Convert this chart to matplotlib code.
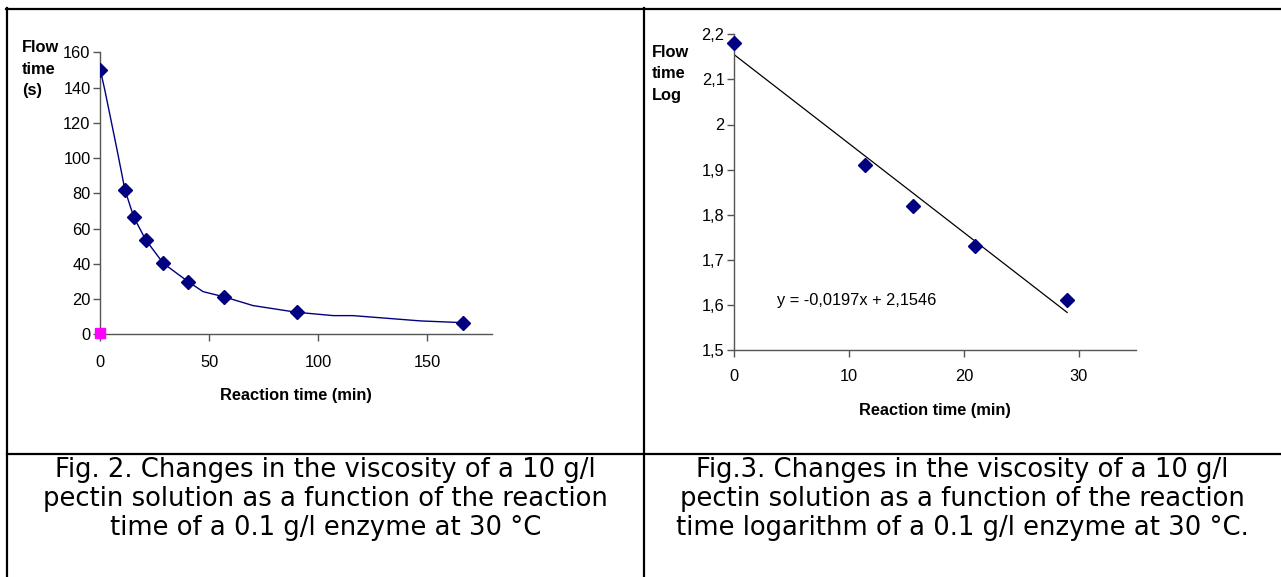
import matplotlib.pyplot as plt
from matplotlib.lines import Line2D

# Fig. 2 data: flow time vs reaction time
reaction_time = [0, 11.3, 15.4, 20.8, 28.9, 40.3, 57.0, 90.1, 166.5]
flow_time = [150, 82, 66.4, 53.7, 40.3, 29.9, 21.2, 12.5, 6.6]
# smoothed line as drawn in the original
curve_x = [0, 2.0, 4.5, 7.8, 11.3, 15.4, 20.8, 28.9, 40.3, 47.2, 57.0, 70.1, 90.1, 107, 116, 147, 166.5]
curve_y = [150, 139, 124, 104, 82, 66.4, 53.7, 40.3, 29.9, 24.2, 21.2, 16.3, 12.5, 10.6, 10.6, 7.6, 6.6]
# second series (pink square)
extra_x = [0]
extra_y = [1]

# Fig. 3 data: log of flow time
log_time = [0, 11.4, 15.6, 21.0, 29.0]
log_flow = [2.18, 1.91, 1.82, 1.73, 1.61]
slope = -0.0197
intercept = 2.1546

W, H = 1281, 577
fig = plt.figure(figsize=(W / 100, H / 100), dpi=100)

axis_color = '#555555'
navy = '#000080'
fs = 11.8


def fx(px):
    return px / W


def fy(py):
    return 1 - py / H


def style_axes(ax, xpad):
    for s in ['top', 'right']:
        ax.spines[s].set_visible(False)
    for s in ['left', 'bottom']:
        ax.spines[s].set_color(axis_color)
        ax.spines[s].set_linewidth(1.0)
    ax.tick_params(colors=axis_color, length=5, width=1.0)
    ax.tick_params(axis='y', pad=2)
    ax.tick_params(axis='x', pad=xpad)
    for lab in ax.get_xticklabels() + ax.get_yticklabels():
        lab.set_fontfamily('Liberation Sans')
        lab.set_fontsize(fs)
        lab.set_color('black')


# left chart
ax1 = fig.add_axes([fx(100.3), fy(334.3), fx(392), 282 / H])
ax1.plot(curve_x, curve_y, color=navy, lw=1.0, zorder=2)
ax1.plot(reaction_time, flow_time, linestyle='none', marker='D', ms=7,
         color=navy, zorder=3)
ax1.plot(extra_x, extra_y, linestyle='none', marker='s', ms=7,
         color='#ff00ff', zorder=4, clip_on=False)
ax1.set_xlim(0, 180)
ax1.set_ylim(0, 160)
ax1.set_xticks([0, 50, 100, 150])
ax1.set_yticks(range(0, 161, 20))
style_axes(ax1, 10)
ax1.set_xlabel('Reaction time (min)', fontfamily='Liberation Sans',
               fontsize=fs, fontweight='bold', labelpad=13)

# right chart
ax2 = fig.add_axes([fx(734.3), fy(350), fx(401.7), 315.7 / H])
ax2.plot(log_time, log_flow, linestyle='none', marker='D', ms=7,
         color=navy, zorder=3, clip_on=False)
trend_x = [log_time[0], log_time[-1]]
trend_y = [intercept + slope * t for t in trend_x]
ax2.plot(trend_x, trend_y, color='black', lw=0.9, zorder=2)
ax2.set_xlim(0, 35)
ax2.set_ylim(1.5, 2.2)
ax2.set_xticks([0, 10, 20, 30])
ax2.set_yticks([1.5, 1.6, 1.7, 1.8, 1.9, 2.0, 2.1, 2.2])
ax2.set_yticklabels(['1,5', '1,6', '1,7', '1,8', '1,9', '2', '2,1', '2,2'])
style_axes(ax2, 9)
ax2.set_xlabel('Reaction time (min)', fontfamily='Liberation Sans',
               fontsize=fs, fontweight='bold', labelpad=13)
ax2.text(3.7, 1.609, 'y = -0,0197x + 2,1546', fontfamily='Liberation Sans',
         fontsize=fs, va='center', ha='left')

# y axis titles
fig.text(fx(22), fy(69), 'Flow\ntime\n(s)', fontfamily='Liberation Sans',
         fontsize=fs, fontweight='bold', va='center', ha='left',
         linespacing=1.55)
fig.text(fx(652), fy(74), 'Flow\ntime\nLog', fontfamily='Liberation Sans',
         fontsize=fs, fontweight='bold', va='center', ha='left',
         linespacing=1.55)

# table borders
lw = 1.6
fig.add_artist(Line2D([fx(6), 1], [fy(8.5), fy(8.5)], color='black', lw=lw))
fig.add_artist(Line2D([fx(7), 1], [fy(453.5), fy(453.5)], color='black', lw=lw))
fig.add_artist(Line2D([fx(7), fx(7)], [fy(8), 0], color='black', lw=lw))
fig.add_artist(Line2D([fx(644), fx(644)], [fy(8), 0], color='black', lw=lw))

# captions
cap1 = ('Fig. 2. Changes in the viscosity of a 10 g/l\n'
        'pectin solution as a function of the reaction\n'
        'time of a 0.1 g/l enzyme at 30 °C')
cap2 = ('Fig.3. Changes in the viscosity of a 10 g/l\n'
        'pectin solution as a function of the reaction\n'
        'time logarithm of a 0.1 g/l enzyme at 30 °C.')
fig.text(fx(325.5), fy(499), cap1, fontfamily='DejaVu Sans', fontsize=18.6,
         ha='center', va='center', linespacing=1.16)
fig.text(fx(962), fy(499), cap2, fontfamily='DejaVu Sans', fontsize=18.6,
         ha='center', va='center', linespacing=1.16)

fig.savefig('out.png', dpi=100)
